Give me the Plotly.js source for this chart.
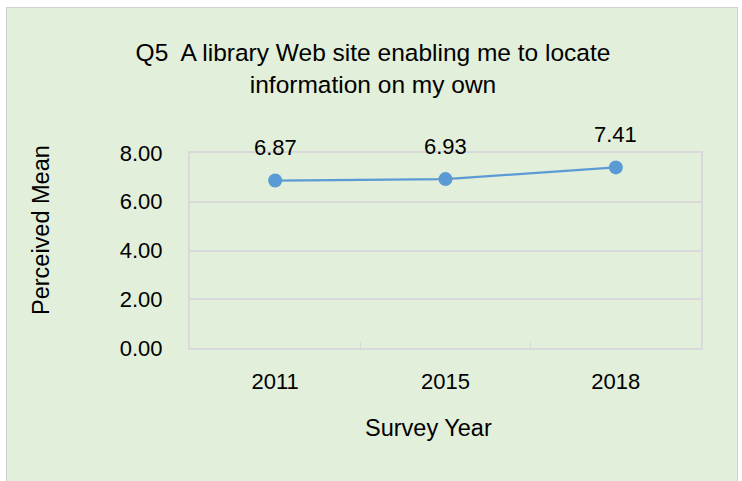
<!DOCTYPE html>
<html>
<head>
<meta charset="utf-8">
<script src="https://cdn.plot.ly/plotly-3.0.1.min.js"></script>
<style>
  html, body { margin: 0; padding: 0; background: #ffffff; }
  #frame { position: absolute; left: 6px; top: 7px; width: 730px; height: 480px;
           border: 1px solid #d0d0d0; background: #E2EFDA; }
  #chart { width: 730px; height: 480px; }
</style>
</head>
<body>
<div id="frame"><div id="chart"></div></div>
<script>
const years = ['2011', '2015', '2018'];
const means = [6.87, 6.93, 7.41];
const labels = ['6.87', '6.93', '7.41'];
const titleText = 'Q5  A library Web site enabling me to locate<br>information on my own';
const xTitle = 'Survey Year';
const yTitle = 'Perceived Mean';

const FONT = 'Liberation Sans, Arial, sans-serif';
const GRID = '#D9D9D9';
// page offset of plot origin = 7 (left), 8 (top)
const OX = 7, OY = 8;
const W = 730, H = 480;
const plotL = 190 - OX, plotR = 701 - OX, plotT = 153 - OY, plotB = 348 - OY;

const trace = {
  x: years, y: means, type: 'scatter', mode: 'lines+markers',
  line: { color: '#5B9BD5', width: 2.25 },
  marker: { color: '#5B9BD5', size: 14 },
  hoverinfo: 'skip', cliponaxis: false
};

const annotations = years.map((yr, i) => ({
  x: i, y: means[i], xref: 'x', yref: 'y', text: labels[i],
  showarrow: false, yshift: 33, font: { family: FONT, size: 22, color: '#000' }
}));
annotations.push({
  xref: 'paper', yref: 'paper', x: (428 - 190) / (701 - 190), y: (348 - 428) / (348 - 153),
  text: xTitle, showarrow: false, xanchor: 'center', yanchor: 'middle',
  font: { family: FONT, size: 23.5, color: '#000' }
});
annotations.push({
  xref: 'paper', yref: 'paper', x: (41 - 190) / (701 - 190), y: (348 - 230) / (348 - 153),
  text: yTitle, showarrow: false, textangle: -90, xanchor: 'center', yanchor: 'middle',
  font: { family: FONT, size: 23.5, color: '#000' }
});

const layout = {
  width: W, height: H,
  paper_bgcolor: '#E2EFDA', plot_bgcolor: '#E2EFDA',
  margin: { l: plotL, r: W - plotR, t: plotT, b: H - plotB, pad: 0 },
  showlegend: false,
  title: { text: titleText, x: (373 - OX) / W, xref: 'container', xanchor: 'center',
           y: 1 - (61 - OY) / H, yanchor: 'middle', yref: 'container',
           font: { family: FONT, size: 24.5, color: '#000' } },
  xaxis: {
    type: 'category', range: [-0.5, 2.5], fixedrange: true,
    showline: true, linecolor: GRID, linewidth: 2, mirror: true,
    showgrid: false, zeroline: false,
    ticks: 'inside', tickson: 'boundaries', ticklen: 6, tickcolor: GRID, tickwidth: 1.5,
    tickfont: { family: FONT, size: 22, color: '#000' }, ticklabelstandoff: 13
  },
  yaxis: {
    range: [0, 8], dtick: 2, tick0: 0, tickformat: '.2f', fixedrange: true,
    showline: true, linecolor: GRID, linewidth: 2, mirror: true,
    showgrid: true, gridcolor: GRID, gridwidth: 2, zeroline: false,
    ticks: '', tickfont: { family: FONT, size: 22, color: '#000' }, ticklabelstandoff: 21
  },
  annotations: annotations
};

Plotly.newPlot('chart', [trace], layout, { displayModeBar: false, staticPlot: true });
</script>
</body>
</html>
